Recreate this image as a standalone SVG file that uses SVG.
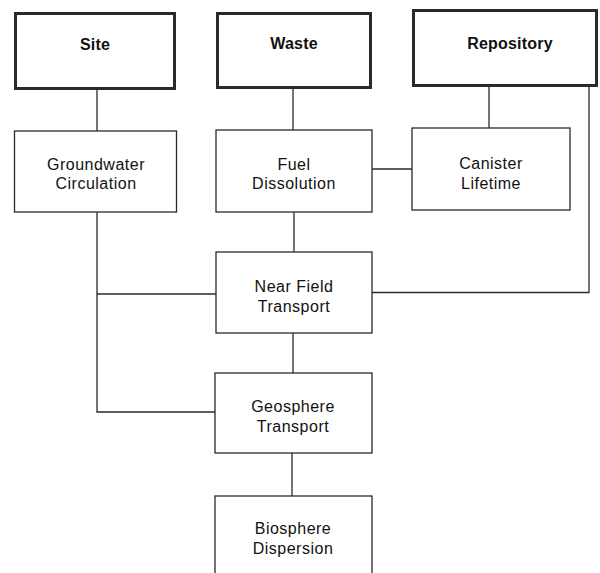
<svg xmlns="http://www.w3.org/2000/svg" width="600" height="573" viewBox="0 0 600 573">
<style>
.top{fill:#fff;stroke:#2a2a2a;stroke-width:3}
.box{fill:#fff;stroke:#2a2a2a;stroke-width:1.3}
.conn{fill:none;stroke:#2a2a2a;stroke-width:1.3}
text{font-family:"Liberation Sans",Arial,sans-serif;font-size:16px;fill:#111;text-anchor:middle;letter-spacing:0.5px}
.b{font-weight:bold;letter-spacing:0.2px}
</style>
<rect width="600" height="573" fill="#fff"/>
<g id="connectors">
<path class="conn" d="M97,90V131"/>
<path class="conn" d="M293,89V130"/>
<path class="conn" d="M489,87V128"/>
<path class="conn" d="M372,169H412"/>
<path class="conn" d="M589,87V292.5H372"/>
<path class="conn" d="M97,212V412H215"/>
<path class="conn" d="M97,294H216"/>
<path class="conn" d="M294,212V252"/>
<path class="conn" d="M293,333V373"/>
<path class="conn" d="M292,453V496"/>
</g>
<g id="site">
<rect class="top" x="15.5" y="13.5" width="159" height="75"/>
<text class="b" x="95" y="50">Site</text>
</g>
<g id="waste">
<rect class="top" x="217.5" y="13.5" width="153" height="74"/>
<text class="b" x="294" y="49">Waste</text>
</g>
<g id="repository">
<rect class="top" x="413.5" y="10.5" width="183" height="75"/>
<text class="b" x="510" y="49">Repository</text>
</g>
<g id="groundwater">
<rect class="box" x="14.5" y="131" width="162" height="81"/>
<text x="96" y="170">Groundwater</text>
<text x="96" y="189">Circulation</text>
</g>
<g id="fuel">
<rect class="box" x="216" y="130" width="156" height="82"/>
<text x="294" y="170">Fuel</text>
<text x="294" y="189">Dissolution</text>
</g>
<g id="canister">
<rect class="box" x="412" y="128" width="158" height="82"/>
<text x="491" y="169">Canister</text>
<text x="491" y="189">Lifetime</text>
</g>
<g id="nearfield">
<rect class="box" x="216" y="252" width="156" height="81"/>
<text x="294" y="292">Near Field</text>
<text x="294" y="312">Transport</text>
</g>
<g id="geosphere">
<rect class="box" x="215" y="373" width="157" height="80"/>
<text x="293" y="412">Geosphere</text>
<text x="293" y="432">Transport</text>
</g>
<g id="biosphere">
<rect class="box" x="215" y="496" width="157" height="100"/>
<text x="293" y="534">Biosphere</text>
<text x="293" y="554">Dispersion</text>
</g>
</svg>
